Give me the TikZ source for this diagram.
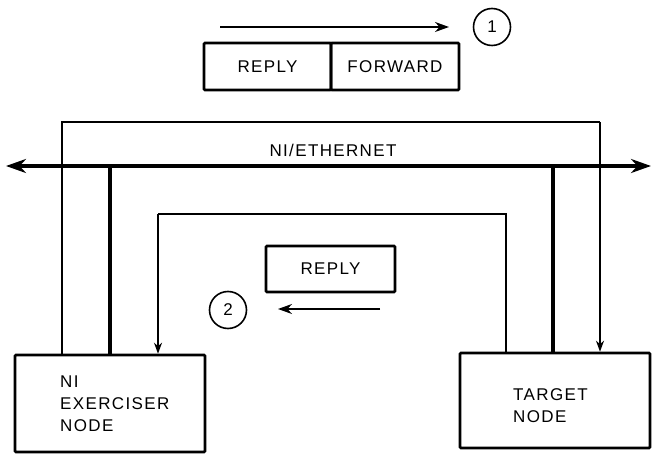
\documentclass[tikz,border=0pt]{standalone}
\usepackage{fontspec}
\setmainfont[LetterSpace=8]{Liberation Sans}
\usetikzlibrary{arrows.meta}
\begin{document}
\begin{tikzpicture}[x=1pt,y=-1pt,
                      font=\fontsize{17}{22}\selectfont,
                      box node/.style={rectangle,draw,line width=2.6pt,rounded corners=1pt,
                      inner sep=0pt,minimum height=47pt},
                      num node/.style={circle,draw,line width=1.6pt,minimum size=37pt,inner sep=0pt},
                      flow/.style={line width=1.8pt,-{Stealth[length=11pt,width=8pt]}},
                      wire/.style={line width=1.8pt},
                      bus/.style={line width=4.5pt}
                     ]
   \useasboundingbox (0,0) rectangle (653,454);
   \node[box node,minimum width=127pt] (rp) at (267.5,66.5) {REPLY};
   \node[box node,minimum width=128pt] (fw) at (395,66.5) {FORWARD};
   \node[num node] (n1) at (492,27) {1};
   \node[box node,minimum width=129pt,minimum height=46pt] (rp2) at (330.5,269) {REPLY};
   \node[num node] (n2) at (228,310) {2};
   \node[box node,minimum width=190pt,minimum height=97pt] (ex) at (110,403.5) {};
   \node[box node,minimum width=190pt,minimum height=95pt] (tg) at (555,400.5) {};
   \node[anchor=west,align=left,inner sep=0pt] (ext) at (60,404) {NI\\EXERCISER\\NODE};
   \node[anchor=west,align=left,inner sep=0pt] (tgt) at (513,406) {TARGET\\NODE};
   \node (eth) at (333,150) {NI/ETHERNET};
   \coordinate (busl) at (6,166);
   \coordinate (busr) at (651,166);
   \coordinate (a1) at (220,27);
   \coordinate (a2) at (449,27);
   \coordinate (b1) at (380,309);
   \coordinate (b2) at (278,309);
   \coordinate (up) at (62,122);    % corner of the forward loop
   \coordinate (dn) at (600,122);
   \coordinate (ul) at (158,214);  % corner of the reply loop
   \coordinate (ur) at (506,214);
   % ethernet and taps
   \draw[bus,{Stealth[length=20pt,width=14pt]}-{Stealth[length=20pt,width=14pt]}] (busl) -- (busr);
   \draw[bus] (ex.north -| 110,0) -- (110,166);
   \draw[bus] (tg.north -| 553,0) -- (553,166);
   % message paths
   \draw[wire] (ex.north -| up) -- (up) -- (dn);
   \draw[flow] (dn) -- (tg.north -| dn);
   \draw[wire] (tg.north -| ur) -- (ur) -- (ul);
   \draw[flow] (ul) -- (ex.north -| ul);
   \draw[flow,-{Stealth[length=14pt,width=10pt]}] (a1) -- (a2);
   \draw[flow,-{Stealth[length=14pt,width=10pt]}] (b1) -- (b2);
\end{tikzpicture}
\end{document}
